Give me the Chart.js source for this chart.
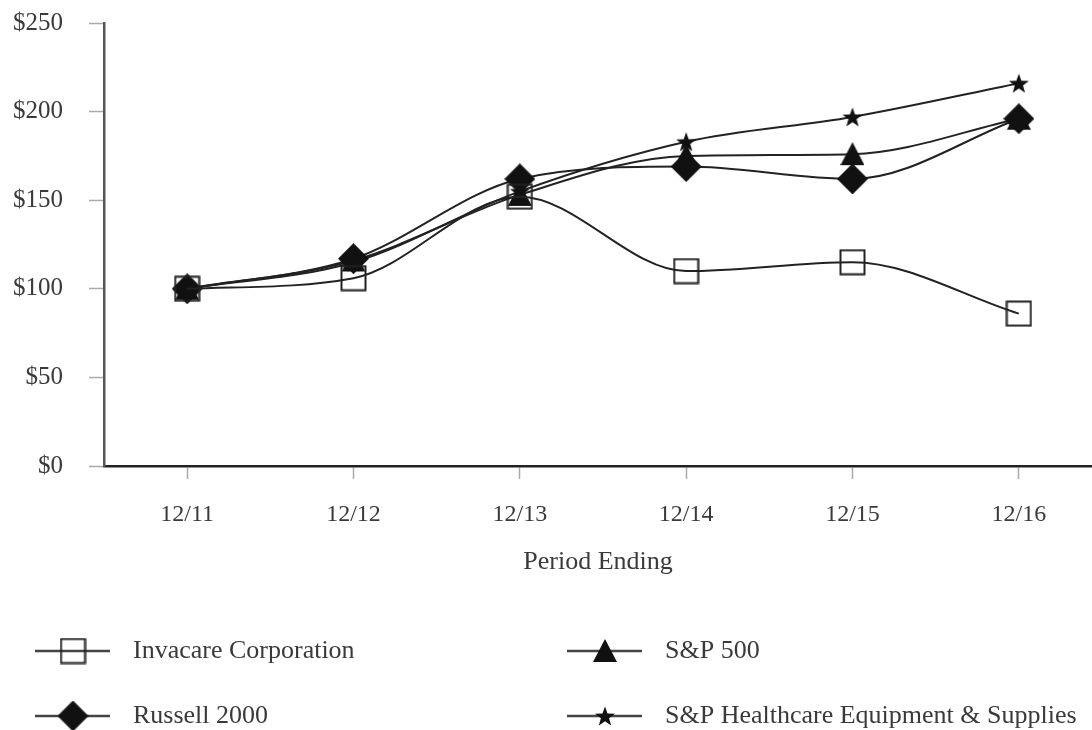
<!DOCTYPE html>
<html>
<head>
<meta charset="utf-8">
<script src="https://cdn.jsdelivr.net/npm/chart.js@4"></script>
<style>
  html, body { margin: 0; padding: 0; background: #fff; }
  #wrap { width: 1092px; height: 730px; }
</style>
</head>
<body>
<div id="wrap"><canvas id="perfChart" width="1092" height="730"></canvas></div>
<script>
// Cumulative total return, period ending
const periods = ['12/11', '12/12', '12/13', '12/14', '12/15', '12/16'];
const invacare = [100, 106, 152, 110, 115, 86];
const sp500 = [100, 116, 153, 175, 176, 196];
const russell2000 = [100, 117, 162, 169, 162, 196];
const spHealthcare = [100, 115, 155, 183, 197, 216];
const yTicks = [0, 50, 100, 150, 200, 250];

const seriesNames = ['Invacare Corporation', 'S&P 500', 'Russell 2000', 'S&P Healthcare Equipment & Supplies'];

const textColor = '#3a3a3a';
const lineColor = '#222';
const serif = 'Liberation Serif';

// Marker images (Chart.js has no filled star, so all four are drawn here)
function makeMarker(size, draw) {
    const c = document.createElement('canvas');
    c.width = size;
    c.height = size;
    draw(c.getContext('2d'), size);
    return c;
}

const squareMarker = makeMarker(27, function(ctx, s) {
    ctx.strokeStyle = '#222';
    ctx.lineWidth = 2;
    ctx.strokeRect(1.5, 1.5, s - 3, s - 3);
});

const diamondMarker = makeMarker(31, function(ctx, s) {
    ctx.fillStyle = '#111';
    ctx.beginPath();
    ctx.moveTo(s / 2, 0);
    ctx.lineTo(s, s / 2);
    ctx.lineTo(s / 2, s);
    ctx.lineTo(0, s / 2);
    ctx.closePath();
    ctx.fill();
});

const triangleMarker = makeMarker(24, function(ctx, s) {
    ctx.fillStyle = '#111';
    ctx.beginPath();
    ctx.moveTo(s / 2, 0);
    ctx.lineTo(s, s - 1);
    ctx.lineTo(0, s - 1);
    ctx.closePath();
    ctx.fill();
});

const starMarker = makeMarker(22, function(ctx, s) {
    const cx = s / 2, cy = s / 2 + 1, outer = 10.5, inner = 4.3;
    ctx.fillStyle = '#111';
    ctx.beginPath();
    for (let i = 0; i < 10; i++) {
        const r = i % 2 === 0 ? outer : inner;
        const a = -Math.PI / 2 + i * Math.PI / 5;
        const px = cx + r * Math.cos(a), py = cy + r * Math.sin(a);
        if (i === 0) ctx.moveTo(px, py); else ctx.lineTo(px, py);
    }
    ctx.closePath();
    ctx.fill();
});

function toPoints(values) {
    return values.map(function(v, i) { return { x: i, y: v }; });
}

function makeDataset(label, values, marker, order) {
    return {
        label: label,
        data: toPoints(values),
        borderColor: lineColor,
        borderWidth: 2,
        pointStyle: marker,
        pointRadius: 6,
        pointHoverRadius: 6,
        cubicInterpolationMode: 'monotone',
        fill: false,
        order: order
    };
}

// Two-column legend under the axis title
const legendSlots = [
    { x: 35, y: 651 },
    { x: 567, y: 651 },
    { x: 35, y: 716 },
    { x: 567, y: 716 }
];

const legendPlugin = {
    id: 'twoColLegend',
    afterDraw: function(chart) {
        const ctx = chart.ctx;
        ctx.save();
        chart.data.datasets.forEach(function(ds, i) {
            const slot = legendSlots[i];
            ctx.strokeStyle = '#444';
            ctx.lineWidth = 2.5;
            ctx.beginPath();
            ctx.moveTo(slot.x, slot.y);
            ctx.lineTo(slot.x + 75, slot.y);
            ctx.stroke();
            const img = ds.pointStyle;
            ctx.drawImage(img, slot.x + 38 - img.width / 2, slot.y - img.height / 2);
            ctx.fillStyle = textColor;
            ctx.font = '26px "' + serif + '"';
            ctx.textBaseline = 'middle';
            ctx.textAlign = 'left';
            ctx.fillText(ds.label, slot.x + 98, slot.y);
        });
        ctx.restore();
    }
};

const ctx = document.getElementById('perfChart').getContext('2d');
new Chart(ctx, {
    type: 'line',
    data: {
        datasets: [
            makeDataset(seriesNames[0], invacare, squareMarker, 0),
            makeDataset(seriesNames[1], sp500, triangleMarker, 2),
            makeDataset(seriesNames[2], russell2000, diamondMarker, 1),
            makeDataset(seriesNames[3], spHealthcare, starMarker, 3)
        ]
    },
    options: {
        responsive: false,
        animation: false,
        events: [],
        layout: {
            autoPadding: false,
            padding: { top: 23, right: 0, bottom: 150, left: 0 }
        },
        scales: {
            x: {
                type: 'linear',
                min: -0.5,
                max: 5.44,
                afterBuildTicks: function(scale) {
                    scale.ticks = periods.map(function(_, i) { return { value: i }; });
                },
                afterFit: function(scale) {
                    scale.height = 114;
                    scale.paddingLeft = 0;
                    scale.paddingRight = 0;
                },
                border: { display: true, color: '#222', width: 2.5 },
                grid: {
                    display: true,
                    drawOnChartArea: false,
                    drawTicks: true,
                    tickLength: 13,
                    tickColor: '#aaa',
                    tickWidth: 1.5
                },
                ticks: {
                    color: textColor,
                    padding: 21,
                    maxRotation: 0,
                    font: { family: serif, size: 24 },
                    callback: function(value) { return periods[value]; }
                },
                title: {
                    display: true,
                    text: 'Period Ending',
                    color: textColor,
                    font: { family: serif, size: 26 },
                    padding: { top: 0, bottom: 2 }
                }
            },
            y: {
                min: 0,
                max: 250,
                afterBuildTicks: function(scale) {
                    scale.ticks = yTicks.map(function(v) { return { value: v }; });
                },
                afterFit: function(scale) {
                    scale.width = 104;
                    scale.paddingTop = 0;
                    scale.paddingBottom = 0;
                },
                border: { display: true, color: '#555', width: 2.5 },
                grid: {
                    display: true,
                    drawOnChartArea: false,
                    drawTicks: true,
                    tickLength: 15,
                    tickColor: '#aaa',
                    tickWidth: 1.5
                },
                ticks: {
                    color: textColor,
                    padding: 26,
                    font: { family: serif, size: 25 },
                    callback: function(value) { return '$' + value; }
                }
            }
        },
        plugins: {
            legend: { display: false },
            tooltip: { enabled: false }
        }
    },
    plugins: [legendPlugin]
});
</script>
</body>
</html>
